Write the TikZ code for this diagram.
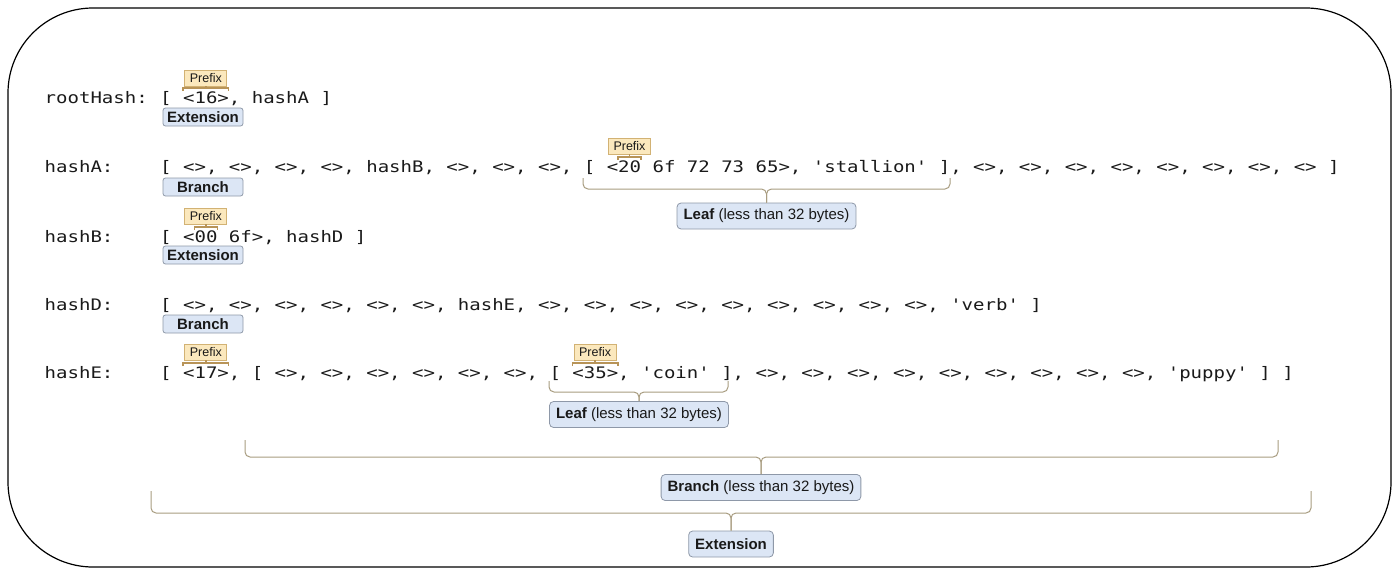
\documentclass[tikz,border=0pt]{standalone}
\usepackage{fontspec}
\setmonofont{DejaVu Sans Mono}[FakeStretch=1.2]
\newfontfamily\labfont{Liberation Sans}
\usetikzlibrary{calc}

\definecolor{lblfill}{HTML}{DCE6F5}
\definecolor{lbldraw}{HTML}{8E98A8}
\definecolor{prefill}{HTML}{FBE8BD}
\definecolor{predraw}{HTML}{D2B274}
\definecolor{bracecol}{HTML}{A89C80}
\definecolor{prebr}{HTML}{B89458}
\definecolor{codecol}{HTML}{1A1A1A}

\newcommand\codefnt{\ttfamily\fontsize{15.85}{19}\selectfont}
\newcommand\tagfnt{\labfont\fontsize{15}{18}\selectfont}
\newcommand\prefnt{\labfont\fontsize{12.5}{14}\selectfont}

\tikzset{
  codetext/.style={anchor=base west, inner sep=0pt, font=\codefnt, text=codecol},
  tagbox/.style={draw=lbldraw, fill=lblfill, rounded corners=2.5pt, line width=0.8pt,
    inner sep=0pt, minimum width=80pt, minimum height=18pt, font=\tagfnt\bfseries, text=black!90},
  bigtag/.style={draw=lbldraw, fill=lblfill, rounded corners=4pt, line width=0.8pt,
    inner xsep=6.5pt, inner ysep=0pt, minimum height=26pt, font=\tagfnt, text=black!90},
  prefixbox/.style={draw=predraw, fill=prefill, line width=0.7pt, minimum width=42pt,
    minimum height=16pt, inner sep=0pt, font=\prefnt, text=black!90},
  bracepath/.style={draw=bracecol, line width=1pt, rounded corners=5pt},
  prebracket/.style={draw=prebr, line width=1.4pt},
  outerframe/.style={draw=black, line width=1.2pt, rounded corners=85pt}
}

\begin{document}
\begin{tikzpicture}[x=1pt,y=-1pt]
\useasboundingbox (0,0) rectangle (1400,576);
\path[outerframe] (8,8) rectangle (1391,567);

% ---- rows
\node[codetext] (lroot) at (44.5,103) {rootHash:};
\node[codetext] (croot) at (160,103) {[ <16>, hashA ]};
\node[codetext] (lA) at (44.5,172) {hashA:};
\node[codetext] (cA) at (160,172) {[ <>, <>, <>, <>, hashB, <>, <>, <>, [ <20 6f 72 73 65>, 'stallion' ], <>, <>, <>, <>, <>, <>, <>, <> ]};
\node[codetext] (lB) at (44.5,242) {hashB:};
\node[codetext] (cB) at (160,242) {[ <00 6f>, hashD ]};
\node[codetext] (lD) at (44.5,310) {hashD:};
\node[codetext] (cD) at (160,310) {[ <>, <>, <>, <>, <>, <>, hashE, <>, <>, <>, <>, <>, <>, <>, <>, <>, 'verb' ]};
\node[codetext] (lE) at (44.5,378) {hashE:};
\node[codetext] (cE) at (160,378) {[ <17>, [ <>, <>, <>, <>, <>, <>, [ <35>, 'coin' ], <>, <>, <>, <>, <>, <>, <>, <>, <>, 'puppy' ] ]};

% ---- small type tags
\node[tagbox] (t1) at (203,117) {Extension};
\node[tagbox] (t2) at (203,187) {Branch};
\node[tagbox] (t3) at (203,255) {Extension};
\node[tagbox] (t4) at (203,324) {Branch};

% ---- prefix marks
% rootHash <16>
\node[prefixbox] (p1) at (205.8,78) {Prefix};
\coordinate (p1b) at (205.8,88);
\draw[prebracket] (182.9,91) -- (182.9,88) -- (228.7,88) -- (228.7,91);
\draw[prebracket] (p1.south) -- (p1b);
% hashA 20
\node[prefixbox] (p2) at (629.5,146) {Prefix};
\coordinate (p2b) at (629.5,157);
\draw[prebracket] (618,160) -- (618,157) -- (641,157) -- (641,160);
\draw[prebracket] (p2.south) -- (p2b);
% hashB 00
\node[prefixbox] (p3) at (205.8,216) {Prefix};
\coordinate (p3b) at (205.8,227);
\draw[prebracket] (194.4,230) -- (194.4,227) -- (217.3,227) -- (217.3,230);
\draw[prebracket] (p3.south) -- (p3b);
% hashE <17>
\node[prefixbox] (p4) at (205.8,352) {Prefix};
\coordinate (p4b) at (205.8,363);
\draw[prebracket] (182.9,366) -- (182.9,363) -- (228.7,363) -- (228.7,366);
\draw[prebracket] (p4.south) -- (p4b);
% hashE <35>
\node[prefixbox] (p5) at (595.1,352) {Prefix};
\coordinate (p5b) at (595.1,363);
\draw[prebracket] (572.2,366) -- (572.2,363) -- (618,363) -- (618,366);
\draw[prebracket] (p5.south) -- (p5b);

% ---- leaf in hashA
\node[bigtag] (leafA) at (766.5,216) {\textbf{Leaf} (less than 32 bytes)};
\coordinate (la1) at (583,178);
\coordinate (la2) at (950,178);
\coordinate (lah) at (0,189);
\draw[bracepath] (la1) |- (leafA.north |- lah) -- (leafA.north);
\draw[bracepath] (la2) |- (leafA.north |- lah) -- (leafA.north);

% ---- leaf in hashE
\node[bigtag] (leafE) at (639,414.5) {\textbf{Leaf} (less than 32 bytes)};
\coordinate (le1) at (549,381);
\coordinate (le2) at (728,381);
\coordinate (leh) at (0,392);
\draw[bracepath] (le1) |- (leafE.north |- leh) -- (leafE.north);
\draw[bracepath] (le2) |- (leafE.north |- leh) -- (leafE.north);

% ---- branch in hashE
\node[bigtag] (brE) at (761,487.5) {\textbf{Branch} (less than 32 bytes)};
\coordinate (be1) at (245,440);
\coordinate (be2) at (1278,440);
\coordinate (beh) at (0,457);
\draw[bracepath] (be1) |- (brE.north |- beh) -- (brE.north);
\draw[bracepath] (be2) |- (brE.north |- beh) -- (brE.north);

% ---- extension (whole hashE)
\node[bigtag] (exE) at (731,544) {\textbf{Extension}};
\coordinate (ee1) at (151,491);
\coordinate (ee2) at (1311,491);
\coordinate (eeh) at (0,513);
\draw[bracepath] (ee1) |- (exE.north |- eeh) -- (exE.north);
\draw[bracepath] (ee2) |- (exE.north |- eeh) -- (exE.north);
\end{tikzpicture}
\end{document}
